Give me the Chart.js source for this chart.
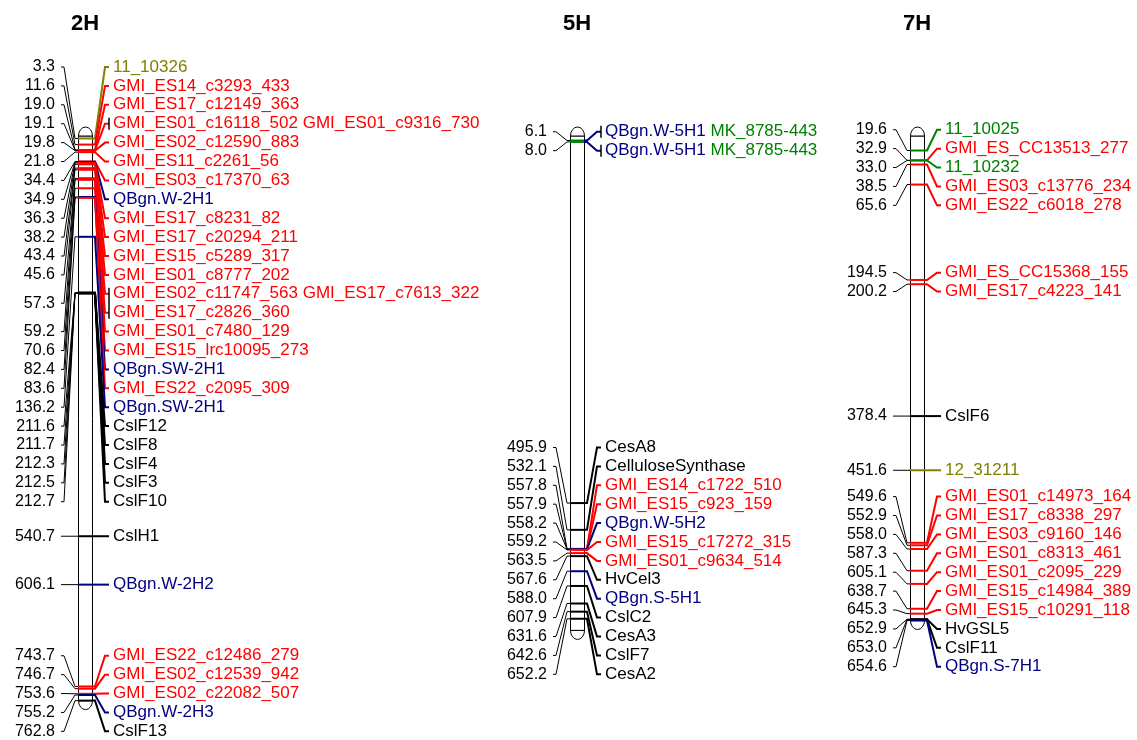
<!DOCTYPE html>
<html>
<head>
<meta charset="utf-8">
<title>Linkage map 2H 5H 7H</title>
<script src="https://cdn.jsdelivr.net/npm/chart.js@4.4.1/dist/chart.umd.min.js"></script>
<style>
  html, body { margin: 0; padding: 0; background: #fff; }
  #wrap { width: 1137px; height: 740px; position: relative; }
</style>
</head>
<body>
<div id="wrap"><canvas id="mapChart"></canvas></div>
<script>
// linkage groups
const groups = ["2H", "5H", "7H"];
const groupLength = [762.8, 668, 654.6];   // cM

// 2H loci
const pos2H = [3.3, 11.6, 19.0, 19.1, 19.8, 21.8, 34.4, 34.9, 36.3, 38.2, 43.4, 45.6, 57.3, 57.3, 59.2, 70.6,
               82.4, 83.6, 136.2, 211.6, 211.7, 212.3, 212.5, 212.7, 540.7, 606.1, 743.7, 746.7, 753.6, 755.2, 762.8];
const name2H = ["11_10326", "GMI_ES14_c3293_433", "GMI_ES17_c12149_363", "GMI_ES01_c16118_502 GMI_ES01_c9316_730",
                "GMI_ES02_c12590_883", "GMI_ES11_c2261_56", "GMI_ES03_c17370_63", "QBgn.W-2H1", "GMI_ES17_c8231_82",
                "GMI_ES17_c20294_211", "GMI_ES15_c5289_317", "GMI_ES01_c8777_202", "GMI_ES02_c11747_563 GMI_ES17_c7613_322",
                "GMI_ES17_c2826_360", "GMI_ES01_c7480_129", "GMI_ES15_lrc10095_273", "QBgn.SW-2H1", "GMI_ES22_c2095_309",
                "QBgn.SW-2H1", "CslF12", "CslF8", "CslF4", "CslF3", "CslF10", "CslH1", "QBgn.W-2H2",
                "GMI_ES22_c12486_279", "GMI_ES02_c12539_942", "GMI_ES02_c22082_507", "QBgn.W-2H3", "CslF13"];
const kind2H = ["o", "r", "r", "r", "r", "r", "r", "b", "r", "r", "r", "r", "r", "r", "r", "r",
                "b", "r", "b", "k", "k", "k", "k", "k", "k", "b", "r", "r", "r", "b", "k"];

// 5H loci
const pos5H = [6.1, 8.0, 495.9, 532.1, 557.8, 557.9, 558.2, 559.2, 563.5, 567.6, 588.0, 607.9, 631.6, 642.6, 652.2];
const name5H = ["QBgn.W-5H1 MK_8785-443", "QBgn.W-5H1 MK_8785-443", "CesA8", "CelluloseSynthase",
                "GMI_ES14_c1722_510", "GMI_ES15_c923_159", "QBgn.W-5H2", "GMI_ES15_c17272_315", "GMI_ES01_c9634_514",
                "HvCel3", "QBgn.S-5H1", "CslC2", "CesA3", "CslF7", "CesA2"];
const kind5H = ["b g", "b g", "k", "k", "r", "r", "b", "r", "r", "k", "b", "k", "k", "k", "k"];

// 7H loci
const pos7H = [19.6, 32.9, 33.0, 38.5, 65.6, 194.5, 200.2, 378.4, 451.6, 549.6, 552.9, 558.0, 587.3, 605.1,
               638.7, 645.3, 652.9, 653.0, 654.6];
const name7H = ["11_10025", "GMI_ES_CC13513_277", "11_10232", "GMI_ES03_c13776_234", "GMI_ES22_c6018_278",
                "GMI_ES_CC15368_155", "GMI_ES17_c4223_141", "CslF6", "12_31211", "GMI_ES01_c14973_164",
                "GMI_ES17_c8338_297", "GMI_ES03_c9160_146", "GMI_ES01_c8313_461", "GMI_ES01_c2095_229",
                "GMI_ES15_c14984_389", "GMI_ES15_c10291_118", "HvGSL5", "CslF11", "QBgn.S-7H1"];
const kind7H = ["g", "r", "g", "r", "r", "r", "r", "k", "o", "r", "r", "r", "r", "r", "r", "r", "k", "k", "b"];

const loci = [
  { pos: pos2H, name: name2H, kind: kind2H },
  { pos: pos5H, name: name5H, kind: kind5H },
  { pos: pos7H, name: name7H, kind: kind7H }
];

// layout
const groupX = [85, 577, 917];     // column centres
const halfW = 7;                   // half width of a chromosome bar
const rowGap = 18.9;
const rowTop = 67;
const palette = { r: "#ff0000", b: "#000080", g: "#008000", o: "#808000", k: "#000000" };
const labelFont = "17px Arial, 'Liberation Sans', sans-serif";
const posFont = "16px Arial, 'Liberation Sans', sans-serif";

const partColors = k => k.split(" ").map(c => palette[c]);

// push label rows apart so they are at least `gap` apart;
// each cluster is centred on the middle of the marks it covers
function spreadRows(targets, gap, top) {
  const grp = [];
  const startOf = g => (g.lo + g.hi) / 2 - (g.n - 1) * gap / 2;
  targets.forEach(t => {
    grp.push({ n: 1, lo: t, hi: t });
    while (grp.length > 1) {
      const a = grp[grp.length - 2], b = grp[grp.length - 1];
      const aEnd = startOf(a) + (a.n - 1) * gap;
      if (startOf(b) - aEnd >= gap) break;
      a.n += b.n; a.hi = b.hi; grp.pop();
    }
  });
  const rows = [];
  let next = top;
  grp.forEach(g => {
    let y = Math.max(startOf(g), next);
    for (let i = 0; i < g.n; i++) { rows.push(y); y += gap; }
    next = y;
  });
  return rows;
}

const linkageMap = {
  id: "linkageMap",
  beforeDatasetsDraw(chart) {
    const { ctx, scales: { x, y } } = chart;
    ctx.save();
    ctx.strokeStyle = "#000";
    ctx.lineWidth = 1;
    ctx.fillStyle = "#fff";
    groups.forEach((g, i) => {
      const cx = x.getPixelForValue(groupX[i]);
      const l = Math.round(cx - halfW) + 0.5, r = Math.round(cx + halfW) + 0.5;
      const top = y.getPixelForValue(0), bot = y.getPixelForValue(groupLength[i]);
      ctx.beginPath();
      ctx.rect(l, top, r - l, bot - top);
      ctx.fill(); ctx.stroke();
      // rounded ends
      const mid = (l + r) / 2, rx = (r - l) / 2;
      ctx.beginPath();
      ctx.ellipse(mid, top, rx, 9, 0, Math.PI, 2 * Math.PI);
      ctx.closePath(); ctx.fill(); ctx.stroke();
      ctx.beginPath();
      ctx.ellipse(mid, bot, rx, 9, 0, 0, Math.PI);
      ctx.closePath(); ctx.fill(); ctx.stroke();
    });
    ctx.restore();
  },
  afterDatasetsDraw(chart) {
    const { ctx, scales: { x, y } } = chart;
    ctx.save();
    ctx.textBaseline = "middle";
    groups.forEach((g, i) => {
      const cx = x.getPixelForValue(groupX[i]);
      const L = Math.round(cx - halfW), R = Math.round(cx + halfW);
      const d = loci[i];
      const markY = d.pos.map(p => y.getPixelForValue(p));
      const rows = spreadRows(markY, rowGap, rowTop);

      // title
      ctx.fillStyle = "#000";
      ctx.font = "bold 22px Arial, 'Liberation Sans', sans-serif";
      ctx.textAlign = "center";
      ctx.fillText(g, cx, 24);

      // right side: names
      ctx.font = labelFont;
      ctx.textAlign = "left";
      d.pos.forEach((p, j) => {
        const cols = partColors(d.kind[j]);
        ctx.strokeStyle = cols[0];
        ctx.lineWidth = 2;
        ctx.beginPath();
        ctx.moveTo(R, markY[j]);
        ctx.lineTo(R + 3, markY[j]);
        ctx.lineTo(R + 13, rows[j]);
        ctx.lineTo(R + 17, rows[j]);
        ctx.stroke();
        let tx = R + 21;
        d.name[j].split(" ").forEach((part, k) => {
          ctx.fillStyle = cols[Math.min(k, cols.length - 1)];
          ctx.fillText(part, tx, rows[j]);
          tx += ctx.measureText(part + " ").width;
        });
      });

      // left side: positions, one label per distinct position
      const uniq = [...new Set(d.pos)];
      ctx.font = posFont;
      ctx.textAlign = "right";
      uniq.forEach(p => {
        const idx = d.pos.map((q, j) => (q === p ? j : -1)).filter(j => j >= 0);
        const ry = idx.reduce((s, j) => s + rows[j], 0) / idx.length;
        const my = y.getPixelForValue(p);
        ctx.strokeStyle = "#000";
        ctx.lineWidth = 1;
        ctx.beginPath();
        ctx.moveTo(L, my);
        ctx.lineTo(L - 3, my);
        ctx.lineTo(L - 14, ry);
        ctx.lineTo(L - 17, ry);
        ctx.stroke();
        ctx.fillStyle = "#000";
        ctx.fillText(p.toFixed(1), L - 23, ry);
        // bracket for rows carrying more than one name
        if (idx.some(j => d.name[j].includes(" "))) {
          ctx.lineWidth = 1.5;
          ctx.beginPath();
          ctx.moveTo(R + 17, rows[idx[0]] - 6);
          ctx.lineTo(R + 17, rows[idx[idx.length - 1]] + 6);
          ctx.stroke();
        }
      });
    });
    ctx.restore();
  }
};

new Chart(document.getElementById("mapChart"), {
  type: "scatter",
  data: {
    datasets: groups.map((g, i) => ({
      label: g,
      data: loci[i].pos.map(p => ({ x: groupX[i], y: p })),
      pointStyle: "line",
      pointRadius: halfW,
      pointHoverRadius: halfW,
      pointBorderWidth: 2,
      pointBorderColor: loci[i].kind.map(k => { const c = partColors(k); return c[c.length - 1]; }),
      clip: false
    }))
  },
  options: {
    responsive: true,
    maintainAspectRatio: false,
    animation: false,
    events: [],
    layout: { autoPadding: false, padding: { top: 136, left: 0, right: 0, bottom: 0 } },
    scales: {
      x: { type: "linear", display: false, min: 0, max: 1137 },
      y: { type: "linear", display: false, reverse: true, min: 0, max: 816 }
    },
    plugins: {
      legend: { display: false },
      tooltip: { enabled: false }
    }
  },
  plugins: [linkageMap]
});
</script>
</body>
</html>
